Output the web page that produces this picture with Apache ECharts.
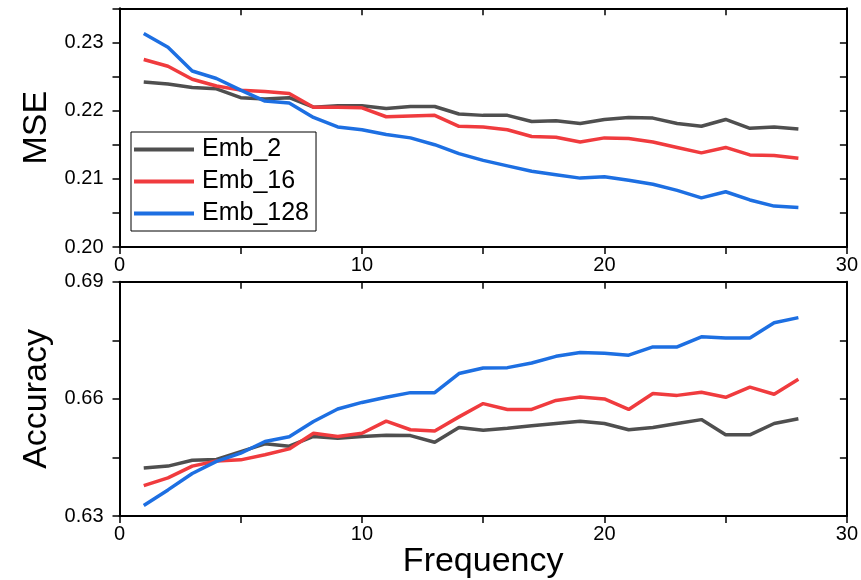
<!DOCTYPE html>
<html><head><meta charset="utf-8">
<script src="https://cdn.jsdelivr.net/npm/echarts@6/dist/echarts.min.js"></script>
<style>html,body{margin:0;padding:0;background:#fff}#c{width:861px;height:580px}</style>
</head><body><div id="c"></div>
<script>
const freq = [1,2,3,4,5,6,7,8,9,10,11,12,13,14,15,16,17,18,19,20,21,22,23,24,25,26,27,28];
const seriesNames = ['Emb_2','Emb_16','Emb_128'];
const mseEmb2 = [0.2242,0.2239,0.2234,0.2232,0.2219,0.2217,0.2219,0.2205,0.2207,0.2207,0.2203,0.2206,0.2206,0.2195,0.2193,0.2193,0.2184,0.2185,0.2181,0.2187,0.2190,0.2189,0.2181,0.2177,0.2187,0.2174,0.2176,0.2173];
const mseEmb16 = [0.2275,0.2265,0.2246,0.2236,0.2230,0.2228,0.2225,0.2205,0.2205,0.2204,0.2191,0.2192,0.2193,0.2177,0.2176,0.2172,0.2162,0.2161,0.2154,0.2160,0.2159,0.2154,0.2146,0.2138,0.2146,0.2135,0.2134,0.2130];
const mseEmb128 = [0.2313,0.2293,0.2258,0.2247,0.2230,0.2214,0.2211,0.2190,0.2176,0.2172,0.2165,0.2160,0.2150,0.2137,0.2127,0.2119,0.2111,0.2106,0.2101,0.2103,0.2098,0.2092,0.2083,0.2072,0.2081,0.2069,0.2060,0.2058];
const accEmb2 = [0.6423,0.6428,0.6443,0.6445,0.6465,0.6485,0.6479,0.6504,0.6499,0.6504,0.6507,0.6506,0.6489,0.6527,0.6520,0.6525,0.6531,0.6537,0.6543,0.6537,0.6521,0.6527,0.6537,0.6547,0.6508,0.6508,0.6537,0.6549];
const accEmb16 = [0.6378,0.6398,0.6428,0.6441,0.6444,0.6457,0.6472,0.6512,0.6504,0.6512,0.6543,0.6521,0.6518,0.6554,0.6588,0.6573,0.6573,0.6596,0.6605,0.6600,0.6573,0.6614,0.6609,0.6617,0.6604,0.6630,0.6612,0.6650];
const accEmb128 = [0.6327,0.6367,0.6409,0.6440,0.6461,0.6491,0.6503,0.6542,0.6574,0.6591,0.6604,0.6616,0.6616,0.6665,0.6679,0.6680,0.6692,0.6709,0.6719,0.6717,0.6712,0.6733,0.6733,0.6759,0.6756,0.6756,0.6795,0.6808];
const xTickLabels = ['0','10','20','30'];
const mseTickLabels = ['0.20','0.21','0.22','0.23'];
const accTickLabels = ['0.63','0.66','0.69'];

const colors = ['#4f4f4f','#f03b3e','#1d6fe2'];
const FONT = 'Liberation Sans, Arial, sans-serif';
const black = '#000';

function pair(vals){ return freq.map((f,i)=>[f, vals[i]]); }

function xAxisDef(grid, pos, showLabels, extra){
  return Object.assign({
    type:'value', gridIndex:grid, position:pos, min:0, max:30, interval:5,
    axisLine:{show:true, onZero:false, lineStyle:{color:black, width:2}},
    axisTick:{show:true, inside: pos==='top', length:7, lineStyle:{color:black, width:1.5}},
    axisLabel:{show:showLabels, color:black, fontSize:20, fontFamily:FONT, margin:8,
      formatter:(v)=>{ const s=String(Math.round(v)); return xTickLabels.includes(s)?s:''; }},
    splitLine:{show:false}
  }, extra||{});
}
function yAxisDef(grid, pos, min, max, interval, labels, showLabels, extra){
  return Object.assign({
    type:'value', gridIndex:grid, position:pos, min:min, max:max, interval:interval,
    axisLine:{show:true, onZero:false, lineStyle:{color:black, width:2}},
    axisTick:{show:true, inside: pos==='right', length:7, lineStyle:{color:black, width:1.5}},
    axisLabel:{show:showLabels, color:black, fontSize:20, fontFamily:FONT, margin:16,
      formatter:(v)=>{ const s=v.toFixed(2); const exact=Math.abs(parseFloat(s)-v)<1e-6; return (exact && labels.includes(s))?s:''; }},
    splitLine:{show:false}
  }, extra||{});
}

const nameStyle = {color:black, fontSize:34, fontFamily:FONT};

const option = {
  animation:false,
  backgroundColor:'#fff',
  grid:[
    {left:119.5, right:8.3, top:8.3, height:238.7},
    {left:119.5, right:8.3, top:281.7, height:238.3}
  ],
  legend:{
    data:seriesNames, orient:'vertical', left:131, top:132,
    borderColor:'#000', borderWidth:1, padding:[5,7,5,3], itemGap:7,
    itemWidth:60, itemHeight:4, icon:'rect',
    textStyle:{color:black, fontSize:25, fontFamily:FONT, lineHeight:25, padding:[0,0,0,3]}
  },
  xAxis:[
    xAxisDef(0,'bottom',true),
    xAxisDef(0,'top',false),
    xAxisDef(1,'bottom',true,{name:'Frequency', nameLocation:'middle', nameGap:20, nameTextStyle:nameStyle}),
    xAxisDef(1,'top',false)
  ],
  yAxis:[
    yAxisDef(0,'left',0.2,0.235,0.005,mseTickLabels,true,{name:'MSE', nameLocation:'middle', nameGap:59, nameRotate:90, nameTextStyle:nameStyle}),
    yAxisDef(0,'right',0.2,0.235,0.005,mseTickLabels,false),
    yAxisDef(1,'left',0.63,0.69,0.015,accTickLabels,true,{name:'Accuracy', nameLocation:'middle', nameGap:59, nameRotate:90, nameTextStyle:nameStyle}),
    yAxisDef(1,'right',0.63,0.69,0.015,accTickLabels,false)
  ],
  series:[
    {name:seriesNames[0], type:'line', xAxisIndex:0, yAxisIndex:0, data:pair(mseEmb2)},
    {name:seriesNames[1], type:'line', xAxisIndex:0, yAxisIndex:0, data:pair(mseEmb16)},
    {name:seriesNames[2], type:'line', xAxisIndex:0, yAxisIndex:0, data:pair(mseEmb128)},
    {name:seriesNames[0], type:'line', xAxisIndex:2, yAxisIndex:2, data:pair(accEmb2)},
    {name:seriesNames[1], type:'line', xAxisIndex:2, yAxisIndex:2, data:pair(accEmb16)},
    {name:seriesNames[2], type:'line', xAxisIndex:2, yAxisIndex:2, data:pair(accEmb128)}
  ].map((s,i)=>Object.assign(s,{symbol:'none', showSymbol:false, lineStyle:{width:3.5, color:colors[i%3]}, itemStyle:{color:colors[i%3]}}))
};
const chart = echarts.init(document.getElementById('c'), null, {renderer:'canvas'});
chart.setOption(option);
</script></body></html>
